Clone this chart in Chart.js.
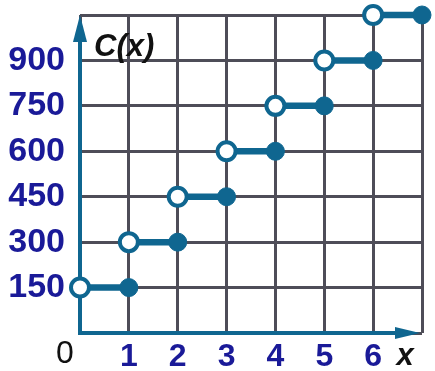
<!DOCTYPE html>
<html><head><meta charset="utf-8">
<script src="https://cdn.jsdelivr.net/npm/chart.js@4/dist/chart.umd.min.js"></script>
<style>html,body{margin:0;padding:0;background:#fff}#wrap{width:435px;height:371px}</style>
</head><body><div id="wrap"><canvas id="c"></canvas></div>
<script>
const xStart = [0, 1, 2, 3, 4, 5, 6];
const xEnd = [1, 2, 3, 4, 5, 6, 7];
const costs = [150, 300, 450, 600, 750, 900, 1050];
const yTickLabels = [150, 300, 450, 600, 750, 900];
const xTickLabels = [1, 2, 3, 4, 5, 6];

const TEAL = '#0f6690';
const GRID = '#4e4d58';
const NAVY = '#1a1a98';

const segData = [];
xStart.forEach((x0, i) => {
  segData.push({x: x0, y: costs[i]});
  segData.push({x: xEnd[i], y: costs[i]});
  segData.push({x: xEnd[i], y: null});
});
const openPts = xStart.map((x, i) => ({x: x, y: costs[i]}));
const filledPts = xEnd.map((x, i) => ({x: x, y: costs[i]}));

const axesPlugin = {
  id: 'axes',
  beforeDatasetsDraw(chart) {
    const {ctx, scales: {x, y}} = chart;
    const x0 = x.getPixelForValue(0), y0 = y.getPixelForValue(0);
    const yTop = y.getPixelForValue(1050), xRight = x.getPixelForValue(7);
    ctx.save();
    ctx.strokeStyle = TEAL; ctx.fillStyle = TEAL; ctx.lineWidth = 4;
    ctx.beginPath(); ctx.moveTo(x0, y0); ctx.lineTo(x0, yTop + 20); ctx.stroke();
    ctx.beginPath(); ctx.moveTo(x0 - 2, y0); ctx.lineTo(xRight - 22, y0); ctx.stroke();
    ctx.beginPath(); ctx.moveTo(x0, yTop); ctx.lineTo(x0 - 7, yTop + 27); ctx.lineTo(x0 + 7, yTop + 27); ctx.closePath(); ctx.fill();
    ctx.beginPath(); ctx.moveTo(xRight - 2, y0); ctx.lineTo(xRight - 27, y0 - 6); ctx.lineTo(xRight - 27, y0 + 6); ctx.closePath(); ctx.fill();
    ctx.restore();
  },
  afterDraw(chart) {
    const {ctx, scales: {x, y}} = chart;
    ctx.save();
    ctx.fillStyle = '#111';
    ctx.textBaseline = 'alphabetic';
    ctx.font = 'italic bold 31px "Liberation Sans", Arial, sans-serif';
    ctx.textAlign = 'left';
    ctx.fillText('C(x)', x.getPixelForValue(0) + 14, y.getPixelForValue(1050) + 41);
    ctx.fillText('x', x.getPixelForValue(6.48), y.getPixelForValue(0) + 32);
    ctx.font = '32px "Liberation Sans", Arial, sans-serif';
    ctx.textAlign = 'center';
    ctx.fillText('0', x.getPixelForValue(0) - 15, y.getPixelForValue(0) + 30);
    ctx.restore();
  }
};

new Chart(document.getElementById('c'), {
  type: 'scatter',
  data: {
    datasets: [
      {data: segData, showLine: true, spanGaps: false, borderColor: TEAL, borderWidth: 6.5, pointRadius: 0, clip: false, order: 3},
      {data: filledPts, pointRadius: 9, pointBackgroundColor: TEAL, pointBorderColor: TEAL, pointBorderWidth: 1, clip: false, order: 2},
      {data: openPts, pointRadius: 9, pointBackgroundColor: '#fff', pointBorderColor: TEAL, pointBorderWidth: 4, clip: false, order: 1}
    ]
  },
  options: {
    responsive: true, maintainAspectRatio: false, animation: false,
    layout: {padding: {top: 15, right: 9, left: 0, bottom: 0}},
    plugins: {legend: {display: false}, tooltip: {enabled: false}},
    scales: {
      x: {
        type: 'linear', min: 0, max: 7,
        afterFit(s) { s.height = 38; s.paddingLeft = 0; s.paddingRight = 0; },
        grid: {color: GRID, lineWidth: 3, drawTicks: false},
        border: {display: false},
        ticks: {stepSize: 1, padding: 5, color: NAVY, autoSkip: false, maxRotation: 0,
          font: {family: '"Liberation Sans", Arial, sans-serif', size: 32, weight: 'bold'},
          callback: v => xTickLabels.includes(v) ? String(v) : ''}
      },
      y: {
        min: 0, max: 1050,
        afterFit(s) { s.width = 80; s.paddingTop = 0; s.paddingBottom = 0; },
        grid: {color: GRID, lineWidth: 3, drawTicks: false},
        border: {display: false},
        ticks: {stepSize: 150, padding: 15, color: NAVY, autoSkip: false,
          font: {family: '"Liberation Sans", Arial, sans-serif', size: 34, weight: 'bold'},
          callback: v => yTickLabels.includes(v) ? String(v) : ''}
      }
    }
  },
  plugins: [axesPlugin]
});
</script>
</body></html>
